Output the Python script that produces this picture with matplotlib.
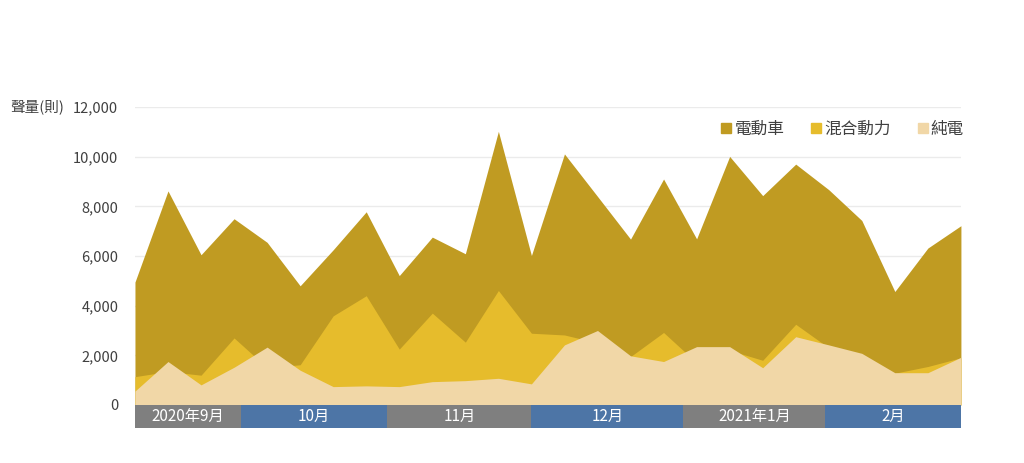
# -*- coding: utf-8 -*-
import matplotlib
matplotlib.use("Agg")
import matplotlib.pyplot as plt
from matplotlib.lines import Line2D
from matplotlib.patches import Rectangle
import matplotlib.transforms as mtransforms

plt.rcParams['font.family'] = ['Noto Sans CJK TC', 'DejaVu Sans']

# weekly volume, Sep 2020 - Feb 2021
ev = [4950, 8620, 6050, 7500, 6550, 4800, 6250, 7780, 5210, 6760, 6090, 11020, 6020,
      10110, 8400, 6680, 9100, 6690, 10010, 8430, 9700, 8670, 7430, 4570, 6320, 7220]
hybrid = [1140, 1350, 1200, 2700, 1500, 1620, 3590, 4400, 2250, 3700, 2530, 4610, 2890,
          2820, 2500, 1950, 2920, 1700, 2200, 1800, 3250, 2300, 1900, 1280, 1550, 1900]
bev = [560, 1750, 810, 1520, 2330, 1400, 740, 770, 740, 940, 980, 1075, 850,
       2420, 3000, 1980, 1750, 2350, 2350, 1500, 2750, 2420, 2080, 1300, 1300, 1920]

series_names = ['電動車', '混合動力', '純電']
colors = ['#c09b22', '#e6bc2c', '#f1d7a7']

# month bands below the plot (edges in week index)
months = ['2020年9月', '10月', '11月', '12月', '2021年1月', '2月']
month_edges = [0, 3.2, 7.64, 12.0, 16.6, 20.9, 25]
band_colors = ['#7f7f7f', '#4d75a6']

fig = plt.figure(figsize=(10.24, 4.63), dpi=100)
ax = fig.add_axes([0.1318, 0.1253, 0.8066, 0.6436])

x = list(range(len(ev)))
for vals, c in zip([ev, hybrid, bev], colors):
    ax.fill_between(x, 0, vals, color=c, linewidth=0, zorder=2)

ax.set_xlim(0, len(ev) - 1)
ax.set_ylim(0, 12000)
ax.set_yticks(range(0, 12001, 2000))
ax.set_yticklabels([f'{v:,}' for v in range(0, 12001, 2000)])
ax.tick_params(axis='y', length=0, pad=12, labelsize=10.5, labelcolor='#404040')
ax.set_xticks([])
ax.grid(axis='y', color='#ebebeb', linewidth=1, zorder=0)
ax.set_axisbelow(True)
for s in ax.spines.values():
    s.set_visible(False)

trans = mtransforms.blended_transform_factory(ax.transData, ax.transAxes)
for i, m in enumerate(months):
    x0, x1 = month_edges[i], month_edges[i + 1]
    ax.add_patch(Rectangle((x0, -0.076), x1 - x0, 0.076, transform=trans,
                           color=band_colors[i % 2], clip_on=False, zorder=3, linewidth=0))
    ax.text((x0 + x1) / 2, -0.038, m, transform=trans, ha='center', va='center',
            color='white', fontsize=11, zorder=4)

fig.text(10 / 1024, 1 - 107 / 463, '聲量(則)', ha='left', va='center',
         fontsize=10.5, color='#404040')

handles = [Line2D([0], [0], marker='s', linestyle='none', markersize=7,
                  markerfacecolor=c, markeredgecolor=c) for c in colors]
ax.legend(handles, series_names, loc='center right', bbox_to_anchor=(1.022, 0.926),
          ncol=3, frameon=False, fontsize=12, handlelength=0.6, handletextpad=0.2,
          columnspacing=1.6, labelcolor='#404040')

fig.savefig('out.png', dpi=100)
